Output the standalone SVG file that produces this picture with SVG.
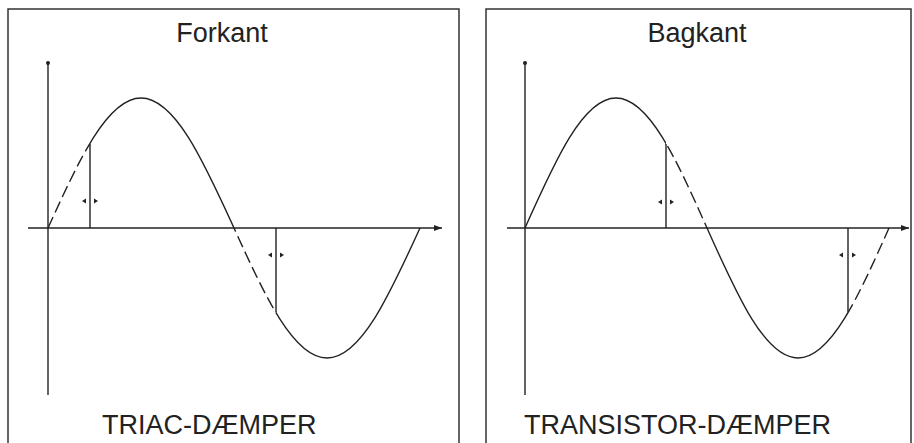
<svg xmlns="http://www.w3.org/2000/svg" width="914" height="443" viewBox="0 0 914 443">
<style>
.frame{fill:none;stroke:#333;stroke-width:1.5}
.ax{fill:none;stroke:#222;stroke-width:1.4}
.wave{fill:none;stroke:#222;stroke-width:1.4}
.dash{fill:none;stroke:#222;stroke-width:1.4;stroke-dasharray:12 5}
.t{font-family:"Liberation Sans",Arial,sans-serif;fill:#222}
.ah{fill:#222}
</style>
<defs>
<marker id="arr" viewBox="0 0 8 6" refX="8" refY="3" markerWidth="8" markerHeight="6" markerUnits="userSpaceOnUse" orient="auto">
<path d="M0,0 L8,3 L0,6 Z" fill="#222"/>
</marker>
<polygon id="tl" points="0,0 4,-2.5 4,2.5"/>
<polygon id="tr" points="0,0 -4,-2.5 -4,2.5"/>
<clipPath id="c1s"><rect x="90" y="0" width="144" height="443"/><rect x="276" y="0" width="160" height="443"/></clipPath>
<clipPath id="c1d"><rect x="40" y="0" width="50" height="443"/><rect x="234" y="0" width="42" height="443"/></clipPath>
<clipPath id="c2s"><rect x="510" y="0" width="156" height="443"/><rect x="707" y="0" width="141" height="443"/></clipPath>
<clipPath id="c2d"><rect x="666" y="0" width="41" height="443"/><rect x="848" y="0" width="50" height="443"/></clipPath>
<path id="w1" d="M48,228 C79.09,159.74 107.53,98 141,98 C174.47,98 202.91,159.74 234,228 C265.09,296.26 293.53,358 327,358 C360.47,358 388.91,296.26 420,228"/>
<path id="w2" d="M525,228 C555.42,159.74 583.24,98 616,98 C648.76,98 676.58,159.74 707,228 C737.42,296.26 765.24,358 798,358 C830.76,358 858.58,296.26 889,228"/>
</defs>

<g id="panel-left">
<rect class="frame" x="8" y="9" width="451" height="440"/>
<text class="t" x="222" y="42" font-size="27" text-anchor="middle">Forkant</text>
<text class="t" x="102" y="434" font-size="27">TRIAC-DÆMPER</text>
</g>
<g id="axes-left">
<line class="ax" x1="48" y1="395" x2="48" y2="64"/>
<circle class="ah" cx="48" cy="63" r="2"/>
<line class="ax" x1="28" y1="228" x2="442" y2="228" marker-end="url(#arr)"/>
</g>
<g id="wave-left">
<use href="#w1" class="wave" clip-path="url(#c1s)"/>
<use href="#w1" class="dash" clip-path="url(#c1d)"/>
<line class="ax" x1="90" y1="144" x2="90" y2="228"/>
<line class="ax" x1="276" y1="228" x2="276" y2="312"/>
<use href="#tl" class="ah" x="82" y="201"/>
<use href="#tr" class="ah" x="98" y="201"/>
<use href="#tl" class="ah" x="268" y="255"/>
<use href="#tr" class="ah" x="284" y="255"/>
</g>

<g id="panel-right">
<rect class="frame" x="486" y="9" width="425" height="440"/>
<text class="t" x="697" y="42" font-size="27" text-anchor="middle">Bagkant</text>
<text class="t" x="524" y="434" font-size="27">TRANSISTOR-DÆMPER</text>
</g>
<g id="axes-right">
<line class="ax" x1="525" y1="395" x2="525" y2="64"/>
<circle class="ah" cx="525" cy="63" r="2"/>
<line class="ax" x1="507" y1="228" x2="909" y2="228" marker-end="url(#arr)"/>
</g>
<g id="wave-right">
<use href="#w2" class="wave" clip-path="url(#c2s)"/>
<use href="#w2" class="dash" clip-path="url(#c2d)"/>
<line class="ax" x1="666" y1="144" x2="666" y2="228"/>
<line class="ax" x1="848" y1="228" x2="848" y2="312"/>
<use href="#tl" class="ah" x="658" y="202"/>
<use href="#tr" class="ah" x="674" y="202"/>
<use href="#tl" class="ah" x="839" y="255"/>
<use href="#tr" class="ah" x="856" y="255"/>
</g>
</svg>
